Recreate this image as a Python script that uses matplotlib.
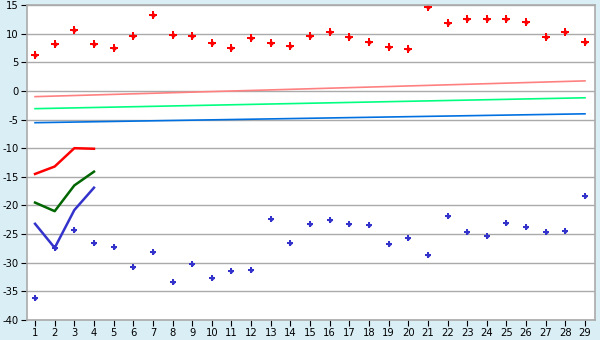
import matplotlib
matplotlib.use("Agg")
import matplotlib.pyplot as plt
import numpy as np

plt.rcParams["axes.unicode_minus"] = False

days = list(range(1, 30))
max_points = [6.2, 8.25, 10.7, 8.25, 7.5, 9.65, 13.3, 9.8, 9.65, 8.4,
              7.5, 9.3, 8.4, 7.9, 9.65, 10.35, 9.5, 8.6, 7.7, 7.35,
              14.7, 11.9, 12.6, 12.6, 12.6, 12.1, 9.5, 10.35, 8.6]
min_points = [-36.2, -27.4, -24.2, -26.6, -27.2, -30.8, -28.2, -33.4, -30.3, -32.6,
              -31.5, -31.2, -22.3, -26.6, -23.2, -22.6, -23.3, -23.5, -26.8, -25.6,
              -28.7, -21.9, -24.7, -25.4, -23.0, -23.7, -24.7, -24.4, -18.3]

line_days = [1, 2, 3, 4]
red_line = [-14.5, -13.2, -10.0, -10.1]
green_line = [-19.5, -21.0, -16.5, -14.1]
blue_line = [-23.2, -27.4, -20.8, -16.9]

trend_days = [1, 29]
pink_trend = [-1.0, 1.75]
lgreen_trend = [-3.1, -1.2]
lblue_trend = [-5.55, -4.0]

bg = "#DAEEF5"
fig = plt.figure(figsize=(6, 3.4), dpi=100, facecolor=bg)
ax = fig.add_axes([27/600, 20/340, 568/600, 315/340])
ax.set_facecolor("white")

ax.set_xlim(0.59, 29.51)
ax.set_ylim(-40, 15)
ax.set_yticks(np.arange(-40, 16, 5))
ax.set_xticks(days)
ax.grid(axis="y", color="#AAAAAA", linewidth=1)
ax.set_axisbelow(True)
for s in ax.spines.values():
    s.set_color("#AAAAAA")
    s.set_linewidth(1.2)
ax.tick_params(axis="both", colors="black", labelsize=7.2, length=4, width=0.8, pad=2)

ax.plot(trend_days, pink_trend, color="#FF8080", linewidth=1.2)
ax.plot(trend_days, lgreen_trend, color="#00FF80", linewidth=1.2)
ax.plot(trend_days, lblue_trend, color="#0070E0", linewidth=1.2)

ax.plot(line_days, red_line, color="#FF0000", linewidth=1.8)
ax.plot(line_days, green_line, color="#006600", linewidth=1.8)
ax.plot(line_days, blue_line, color="#3333CC", linewidth=1.8)

for vals, col, ms in [(max_points, "#FF0000", 5.2), (min_points, "#3333CC", 4.6)]:
    ax.plot(days, vals, linestyle="none", marker="P", markersize=ms,
            color=col, markeredgewidth=0)
    ax.plot(days, vals, linestyle="none", marker="D", markersize=ms * 0.55,
            color=col, markeredgewidth=0)

fig.savefig("out.png", dpi=100, facecolor=bg)
